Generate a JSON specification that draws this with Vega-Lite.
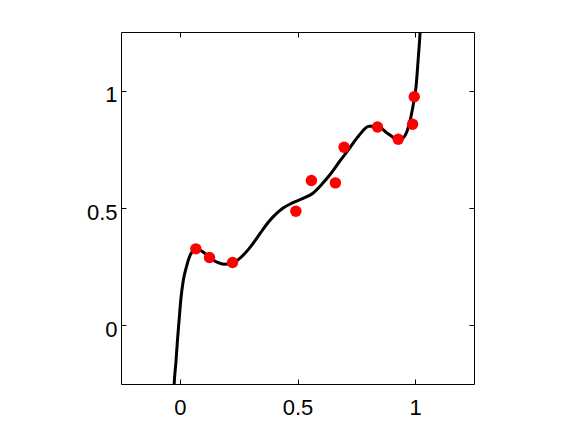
{
  "$schema": "https://vega.github.io/schema/vega-lite/v6.json",
  "width": 353,
  "height": 352,
  "autosize": "none",
  "padding": {"left": 121, "top": 32, "right": 102, "bottom": 48},
  "background": "white",
  "config": {
    "view": {"stroke": "black", "strokeWidth": 1},
    "axis": {
      "domain": false,
      "grid": false,
      "tickColor": "black",
      "tickWidth": 1,
      "tickSize": -5,
      "labelFont": "Liberation Sans",
      "labelFontSize": 22,
      "labelColor": "black",
      "title": null
    }
  },
  "datasets": {
    "curve": [
      {"x": -0.028, "y": -0.36},
      {"x": -0.024, "y": -0.25},
      {"x": -0.017, "y": -0.162},
      {"x": -0.010, "y": -0.063},
      {"x": -0.003, "y": 0.023},
      {"x": 0.004, "y": 0.108},
      {"x": 0.015, "y": 0.193},
      {"x": 0.028, "y": 0.249},
      {"x": 0.044, "y": 0.299},
      {"x": 0.061, "y": 0.320},
      {"x": 0.078, "y": 0.323},
      {"x": 0.103, "y": 0.309},
      {"x": 0.132, "y": 0.285},
      {"x": 0.160, "y": 0.268},
      {"x": 0.188, "y": 0.260},
      {"x": 0.217, "y": 0.262},
      {"x": 0.252, "y": 0.283},
      {"x": 0.295, "y": 0.328},
      {"x": 0.325, "y": 0.368},
      {"x": 0.351, "y": 0.406},
      {"x": 0.394, "y": 0.460},
      {"x": 0.436, "y": 0.498},
      {"x": 0.479, "y": 0.522},
      {"x": 0.521, "y": 0.540},
      {"x": 0.564, "y": 0.562},
      {"x": 0.606, "y": 0.604},
      {"x": 0.642, "y": 0.647},
      {"x": 0.677, "y": 0.696},
      {"x": 0.720, "y": 0.753},
      {"x": 0.762, "y": 0.810},
      {"x": 0.804, "y": 0.848},
      {"x": 0.840, "y": 0.848},
      {"x": 0.875, "y": 0.824},
      {"x": 0.904, "y": 0.803},
      {"x": 0.925, "y": 0.789},
      {"x": 0.946, "y": 0.796},
      {"x": 0.967, "y": 0.831},
      {"x": 0.982, "y": 0.888},
      {"x": 0.996, "y": 0.965},
      {"x": 1.004, "y": 1.02},
      {"x": 1.013, "y": 1.136},
      {"x": 1.021, "y": 1.25},
      {"x": 1.026, "y": 1.36}
    ],
    "points": [
      {"x": 0.068, "y": 0.326},
      {"x": 0.126, "y": 0.289},
      {"x": 0.224, "y": 0.268},
      {"x": 0.493, "y": 0.486},
      {"x": 0.559, "y": 0.617},
      {"x": 0.661, "y": 0.607},
      {"x": 0.698, "y": 0.759},
      {"x": 0.840, "y": 0.845},
      {"x": 0.928, "y": 0.793},
      {"x": 0.989, "y": 0.857},
      {"x": 0.996, "y": 0.974}
    ]
  },
  "layer": [
    {
      "data": {"name": "curve"},
      "mark": {"type": "line", "color": "black", "strokeWidth": 3, "clip": true, "interpolate": "monotone"},
      "encoding": {
        "x": {
          "field": "x", "type": "quantitative",
          "scale": {"domain": [-0.25, 1.25], "nice": false, "zero": false},
          "axis": {"orient": "bottom", "values": [0, 0.5, 1], "format": "~g", "labelPadding": 18}
        },
        "y": {
          "field": "y", "type": "quantitative",
          "scale": {"domain": [-0.25, 1.25], "nice": false, "zero": false},
          "axis": {"orient": "left", "values": [0, 0.5, 1], "format": "~g", "labelPadding": 9, "labelOffset": 4}
        }
      }
    },
    {
      "data": {"name": "points"},
      "mark": {"type": "point", "filled": true, "color": "#ff0000", "opacity": 1, "size": 130},
      "encoding": {
        "x": {
          "field": "x", "type": "quantitative",
          "axis": {"orient": "top", "values": [0, 0.5, 1], "labels": false}
        },
        "y": {
          "field": "y", "type": "quantitative",
          "axis": {"orient": "right", "values": [0, 0.5, 1], "labels": false}
        }
      }
    }
  ],
  "resolve": {"axis": {"x": "independent", "y": "independent"}}
}
